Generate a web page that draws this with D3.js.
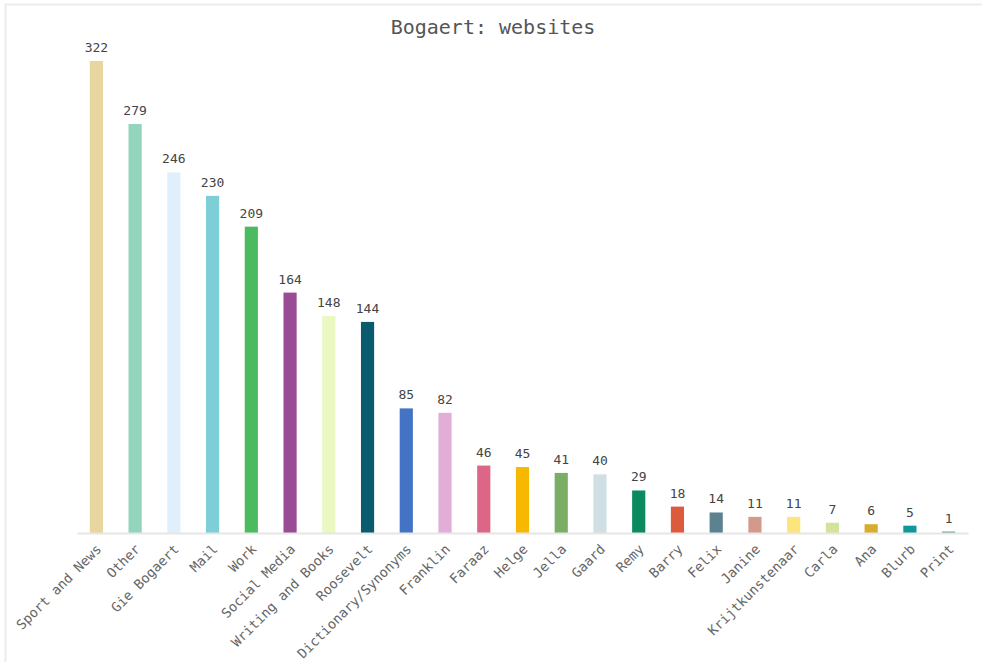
<!DOCTYPE html>
<html>
<head>
<meta charset="utf-8">
<script src="https://cdn.jsdelivr.net/npm/d3@7"></script>
<style>
  html, body { margin: 0; padding: 0; background: #fff; }
  svg { display: block; }
  text { font-family: "DejaVu Sans Mono", "Liberation Mono", monospace; }
</style>
</head>
<body>
<svg id="chart" width="982" height="662"></svg>
<script>
// Website categories, visit counts and bar colours
const categories = ["Sport and News", "Other", "Gie Bogaert", "Mail", "Work", "Social Media",
  "Writing and Books", "Roosevelt", "Dictionary/Synonyms", "Franklin", "Faraaz", "Helge",
  "Jella", "Gaard", "Remy", "Barry", "Felix", "Janine", "Krijtkunstenaar", "Carla", "Ana",
  "Blurb", "Print"];
const counts = [322, 279, 246, 230, 209, 164, 148, 144, 85, 82, 46, 45, 41, 40, 29, 18, 14,
  11, 11, 7, 6, 5, 1];
const colors = ["#e8d6a0", "#93d4bc", "#dff0fc", "#7dced6", "#4cba5f", "#9a4b96", "#ebf8c1",
  "#0b5b6e", "#4472c4", "#e0aed6", "#dd6585", "#f6b800", "#7bae65", "#cfdfe3", "#0a8a5e",
  "#dd5b3c", "#5c8290", "#d39a8c", "#fde57d", "#d4e39a", "#d8ad2c", "#0f9799", "#6a9e88"];
const title = "Bogaert: websites";

const svg = d3.select("#chart");
const W = 982, H = 662;
const margin = { left: 77, right: 14, top: 61, bottom: 129 };
const baseY = H - margin.bottom;

// Panel frame (top and left edges)
svg.append("path")
  .attr("d", `M5.5,${H} L5.5,4.5 L${W},4.5`)
  .attr("fill", "none")
  .attr("stroke", "#ececec")
  .attr("stroke-width", 2);

const x = d3.scaleBand()
  .domain(categories)
  .range([margin.left, W - margin.right])
  .paddingInner(0.66)
  .paddingOuter(0.33);

const y = d3.scaleLinear()
  .domain([0, 322])
  .range([baseY, margin.top]);

const data = categories.map((c, i) => ({ name: c, value: counts[i], color: colors[i] }));

// Title
svg.append("text")
  .attr("x", W / 2 + 2)
  .attr("y", 34)
  .attr("text-anchor", "middle")
  .attr("font-size", 20)
  .attr("fill", "#555")
  .text(title);

// Bars
svg.append("g").selectAll("rect")
  .data(data)
  .join("rect")
  .attr("x", d => x(d.name))
  .attr("width", x.bandwidth())
  .attr("y", d => y(d.value))
  .attr("height", d => baseY - y(d.value))
  .attr("fill", d => d.color);

// Value labels
svg.append("g").selectAll("text")
  .data(data)
  .join("text")
  .attr("x", d => x(d.name) + x.bandwidth() / 2)
  .attr("y", d => y(d.value) - 9)
  .attr("text-anchor", "middle")
  .attr("font-size", 13)
  .attr("fill", "#444")
  .text(d => d.value);

// X axis
const axis = svg.append("g")
  .attr("transform", `translate(0,${baseY})`)
  .call(d3.axisBottom(x).tickSize(0).tickPadding(0));
axis.select(".domain").attr("stroke", "#e6e6e6").attr("stroke-width", 2);
axis.selectAll(".tick text")
  .attr("font-family", "DejaVu Sans Mono, monospace")
  .attr("font-size", 13.5)
  .attr("fill", "#666")
  .attr("text-anchor", "end")
  .attr("dy", null)
  .attr("y", null)
  .attr("transform", "translate(6,17) rotate(-45)");
</script>
</body>
</html>
